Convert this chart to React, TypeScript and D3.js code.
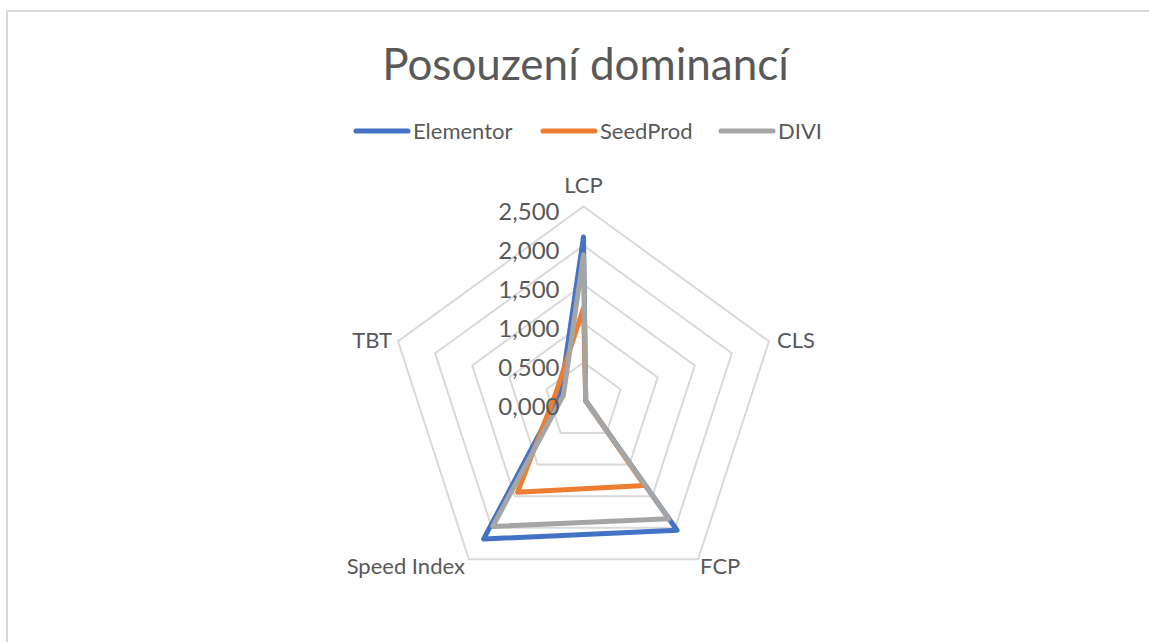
import * as d3 from "d3"

const axes = ["LCP", "CLS", "FCP", "Speed Index", "TBT"]
const seriesNames = ["Elementor", "SeedProd", "DIVI"]
const elementor = [2.11, 0.03, 2.04, 2.18, 0.31]
const seedProd = [1.2, 0.03, 1.33, 1.44, 0.37]
const divi = [1.88, 0.03, 1.86, 1.98, 0.27]
const ticks = [0, 0.5, 1, 1.5, 2, 2.5]

const COLORS: Record<string, string> = {
  Elementor: "#4472c4",
  SeedProd: "#ed7d31",
  DIVI: "#a5a5a5",
}

const W = 1149
const H = 642
const cx = 583.5
const cy = 401.5
const R = 195
const FONT = "Lato, 'Open Sans', sans-serif"

export default function App() {
  const r = d3.scaleLinear().domain([0, 2.5]).range([0, R])
  const angle = (i: number) => (i * 2 * Math.PI) / axes.length
  const line = d3
    .lineRadial<number>()
    .angle((_, i) => angle(i))
    .radius((d) => r(d))
    .curve(d3.curveLinearClosed)

  const series: [string, number[]][] = [
    ["Elementor", elementor],
    ["SeedProd", seedProd],
    ["DIVI", divi],
  ]
  const fmt = (v: number) => d3.format(".3f")(v).replace(".", ",")

  // axis labels sit just outside the outer ring vertex
  const vertex = axes.map((_, i) => [Math.sin(angle(i)) * R, -Math.cos(angle(i)) * R])
  const anchors = ["middle", "start", "start", "end", "end"]
  const offX = [0, 8, 2, -4, -6]
  const offY = [-14, 7, 15, 15, 7]

  const legendX = [354, 541, 719]

  return (
    <svg width={W} height={H} style={{ position: "absolute", left: 0, top: 0 }} fontFamily={FONT}>
      <rect x={0} y={0} width={W} height={H} fill="#fff" />
      <rect x={7} y={11} width={W + 50} height={H + 50} fill="none" stroke="#d9d9d9" strokeWidth={2} />
      <text x={cx + 2} y={80} textAnchor="middle" fontSize={44} fill="#595959">
        Posouzení dominancí
      </text>
      <g>
        {seriesNames.map((n, i) => (
          <g key={n} transform={`translate(${legendX[i]},131)`}>
            <line x1={2} x2={54} y1={0} y2={0} stroke={COLORS[n]} strokeWidth={5} strokeLinecap="round" />
            <text x={59} y={8} fontSize={22} fill="#595959">
              {n}
            </text>
          </g>
        ))}
      </g>
      <g transform={`translate(${cx},${cy})`}>
        {ticks.slice(1).map((t) => (
          <path
            key={t}
            d={line(axes.map(() => t)) || ""}
            fill="none"
            stroke="#d9d9d9"
            strokeWidth={2}
          />
        ))}
        {series.map(([n, vals]) => (
          <path
            key={n}
            d={line(vals) || ""}
            fill="none"
            stroke={COLORS[n]}
            strokeWidth={5}
            strokeLinejoin="round"
          />
        ))}
        {ticks.map((t) => (
          <text key={t} x={-24} y={-r(t) + 13} textAnchor="end" fontSize={24} fill="#595959">
            {fmt(t)}
          </text>
        ))}
        {axes.map((a, i) => (
          <text
            key={a}
            x={vertex[i][0] + offX[i]}
            y={vertex[i][1] + offY[i]}
            textAnchor={anchors[i]}
            fontSize={22}
            fill="#595959"
          >
            {a}
          </text>
        ))}
      </g>
    </svg>
  )
}
